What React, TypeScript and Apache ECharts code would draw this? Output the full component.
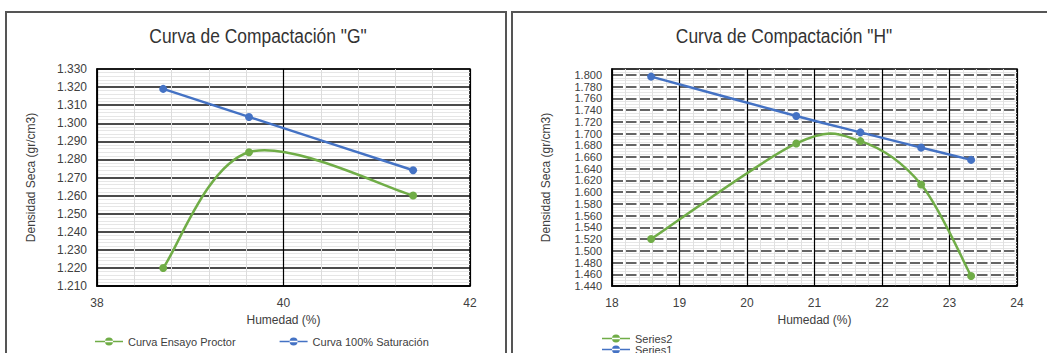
import { useEffect, useRef } from "react";
import * as echarts from "echarts";

// Chart "G"
const gHumedad = [38.71, 39.63, 41.39];
const gProctor = [1.22, 1.284, 1.26];
const gSaturacion = [1.319, 1.3035, 1.274];

// Chart "H"
const hHumedad = [18.58, 20.73, 21.68, 22.58, 23.32];
const hSeries2 = [1.52, 1.683, 1.687, 1.613, 1.457];
const hSeries1 = [1.797, 1.73, 1.702, 1.676, 1.655];

const titleG = 'Curva de Compactación "G"';
const titleH = 'Curva de Compactación "H"';
const xName = "Humedad (%)";
const yName = "Densidad Seca (gr/cm3)";

const FONT = "'Liberation Sans Narrow', 'Arial Narrow', 'Liberation Sans', Arial, sans-serif";
const GREEN = "#70ad47";
const BLUE = "#4472c4";
const TXT = "#404040";

const LEGEND_ICON = "path://M0,3.2 L28,3.2 L28,4.8 L0,4.8 Z M10,4 A4,4 0 1,0 18,4 A4,4 0 1,0 10,4 Z";

const pairs = (xs: number[], ys: number[]) => xs.map((x, i) => [x, ys[i]]);

// Excel-like smoothed curve (Catmull-Rom Bezier) drawn through the axis scales
function smoothCurve(name: string, axis: number, xs: number[], ys: number[], color: string) {
  return {
    name,
    type: "custom",
    coordinateSystem: "cartesian2d",
    xAxisIndex: axis,
    yAxisIndex: axis,
    data: pairs(xs, ys),
    encode: { x: 0, y: 1 },
    itemStyle: { color },
    silent: true,
    z: 4,
    renderItem: (params: any, api: any) => {
      const i = params.dataIndex;
      const n = xs.length;
      if (i >= n - 1) return null;
      const P = (k: number) => api.coord([xs[Math.max(0, Math.min(n - 1, k))], ys[Math.max(0, Math.min(n - 1, k))]]);
      const p0 = P(i - 1), p1 = P(i), p2 = P(i + 1), p3 = P(i + 2);
      return {
        type: "bezierCurve",
        shape: {
          x1: p1[0],
          y1: p1[1],
          cpx1: p1[0] + (p2[0] - p0[0]) / 6,
          cpy1: p1[1] + (p2[1] - p0[1]) / 6,
          cpx2: p2[0] - (p3[0] - p1[0]) / 6,
          cpy2: p2[1] - (p3[1] - p1[1]) / 6,
          x2: p2[0],
          y2: p2[1],
        },
        style: { stroke: color, lineWidth: 2.5, fill: "none" },
      };
    },
  };
}

function markers(name: string, axis: number, xs: number[], ys: number[], color: string) {
  return {
    name,
    type: "scatter",
    xAxisIndex: axis,
    yAxisIndex: axis,
    data: pairs(xs, ys),
    symbol: "circle",
    symbolSize: 8,
    itemStyle: { color, opacity: 1 },
    z: 5,
  };
}

export default function App() {
  const ref = useRef<HTMLDivElement>(null);
  useEffect(() => {
    if (!ref.current) return;
    const chart = echarts.init(ref.current, null, { renderer: "svg" });
    const label = { fontSize: 12, color: TXT, fontFamily: FONT };
    const nameStyle = { fontSize: 12, color: TXT, fontFamily: FONT };
    const legendText = { fontSize: 11, color: TXT, fontFamily: FONT };
    const legendBase = { itemWidth: 28, itemHeight: 8, padding: 0, itemGap: 44, textStyle: legendText };
    chart.setOption({
      animation: false,
      backgroundColor: "#fff",
      graphic: [
        { type: "rect", shape: { x: 6, y: 12, width: 500, height: 400 }, style: { fill: "none", stroke: "#555", lineWidth: 2 } },
        { type: "rect", shape: { x: 512, y: 12, width: 600, height: 400 }, style: { fill: "none", stroke: "#555", lineWidth: 2 } },
        { type: "text", x: 258, y: 36, scaleX: 0.87, style: { text: titleG, fontSize: 20, fontFamily: FONT, fill: "#333", align: "center", verticalAlign: "middle" } },
        { type: "text", x: 784, y: 36, scaleX: 0.87, style: { text: titleH, fontSize: 20, fontFamily: FONT, fill: "#333", align: "center", verticalAlign: "middle" } },
      ],
      grid: [
        { left: 97, top: 69, width: 373, height: 217, show: true, borderColor: "#000", borderWidth: 1.5, backgroundColor: "#fff" },
        { left: 612, top: 69, width: 405, height: 217, show: true, borderColor: "#000", borderWidth: 1.5, backgroundColor: "#fff" },
      ],
      legend: [
        {
          ...legendBase,
          left: 95,
          top: 336,
          data: [
            { name: "Curva Ensayo Proctor", icon: LEGEND_ICON },
            { name: "Curva 100% Saturación", icon: LEGEND_ICON },
          ],
        },
        { ...legendBase, left: 602, top: 333, data: [{ name: "Series2", icon: LEGEND_ICON }] },
        { ...legendBase, left: 602, top: 344, data: [{ name: "Series1", icon: LEGEND_ICON }] },
      ],
      xAxis: [
        {
          type: "value",
          gridIndex: 0,
          min: 38,
          max: 42,
          interval: 2,
          name: xName,
          nameLocation: "middle",
          nameGap: 28,
          nameTextStyle: nameStyle,
          axisLine: { show: true, lineStyle: { color: "#000", width: 1.5 } },
          axisTick: { show: false },
          axisLabel: { ...label, margin: 11 },
          splitLine: { show: true, lineStyle: { color: "#000", width: 1.2 } },
          minorTick: { show: false, splitNumber: 5 },
          minorSplitLine: { show: true, lineStyle: { color: "#dcdcdc", width: 1 } },
        },
        {
          type: "value",
          gridIndex: 1,
          min: 18,
          max: 24,
          interval: 1,
          name: xName,
          nameLocation: "middle",
          nameGap: 28,
          nameTextStyle: nameStyle,
          axisLine: { show: true, lineStyle: { color: "#000", width: 1.5 } },
          axisTick: { show: false },
          axisLabel: { ...label, margin: 11 },
          splitLine: { show: true, lineStyle: { color: "#000", width: 1.2 } },
          minorTick: { show: false, splitNumber: 5 },
          minorSplitLine: { show: true, lineStyle: { color: "#e0e0e0", width: 1 } },
        },
      ],
      yAxis: [
        {
          type: "value",
          gridIndex: 0,
          min: 1.21,
          max: 1.33,
          interval: 0.01,
          name: yName,
          nameLocation: "middle",
          nameGap: 60,
          nameTextStyle: nameStyle,
          axisLine: { show: true, lineStyle: { color: "#000", width: 1.5 } },
          axisTick: { show: false },
          axisLabel: { ...label, margin: 10, formatter: (v: number) => v.toFixed(3) },
          splitLine: { show: true, lineStyle: { color: "#111", width: 1.5 } },
          minorTick: { show: false, splitNumber: 5 },
          minorSplitLine: { show: true, lineStyle: { color: "#e6e6e6", width: 1 } },
        },
        {
          type: "value",
          gridIndex: 1,
          min: 1.44,
          max: 1.81,
          interval: 0.02,
          name: yName,
          nameLocation: "middle",
          nameGap: 60,
          nameTextStyle: nameStyle,
          axisLine: { show: true, lineStyle: { color: "#000", width: 1.5 } },
          axisTick: { show: false },
          axisLabel: {
            ...label,
            fontSize: 11,
            lineHeight: 11,
            margin: 10,
            showMaxLabel: false,
            formatter: (v: number) => (Math.abs(v - 1.81) < 1e-6 ? "" : v.toFixed(3)),
          },
          splitLine: { show: true, lineStyle: { color: "#333", width: 1.5, type: [11, 2.5] } },
          minorTick: { show: false, splitNumber: 4 },
          minorSplitLine: { show: true, lineStyle: { color: "#e6e6e6", width: 1 } },
        },
      ],
      series: [
        smoothCurve("Curva Ensayo Proctor", 0, gHumedad, gProctor, GREEN),
        smoothCurve("Curva 100% Saturación", 0, gHumedad, gSaturacion, BLUE),
        markers("Curva Ensayo Proctor", 0, gHumedad, gProctor, GREEN),
        markers("Curva 100% Saturación", 0, gHumedad, gSaturacion, BLUE),
        smoothCurve("Series2", 1, hHumedad, hSeries2, GREEN),
        smoothCurve("Series1", 1, hHumedad, hSeries1, BLUE),
        markers("Series2", 1, hHumedad, hSeries2, GREEN),
        markers("Series1", 1, hHumedad, hSeries1, BLUE),
      ],
    });
    return () => chart.dispose();
  }, []);
  return <div ref={ref} style={{ position: "absolute", left: 0, top: 0, width: 1047, height: 353 }} />;
}
